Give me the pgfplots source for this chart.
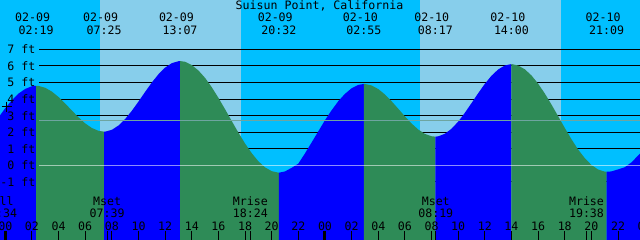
\documentclass[border=0pt]{standalone}
\usepackage{pgfplots}
\pgfplotsset{compat=1.18}
\usepackage{fontspec}
\setmainfont{DejaVu Sans Mono}
\definecolor{night}{RGB}{0,191,255}
\definecolor{day}{RGB}{135,206,235}
\definecolor{rise}{RGB}{0,0,255}
\definecolor{fall}{RGB}{46,139,87}
\definecolor{msl}{RGB}{110,165,160}
\begin{document}
\fontsize{11.6}{13}\selectfont
\begin{tikzpicture}[x=1pt,y=1pt,font=\fontsize{11.6}{13}\selectfont]
\path[use as bounding box] (0,0) rectangle (640,240);
\clip (0,0) rectangle (640,240);
\begin{axis}[at={(0,0)}, anchor=south west, scale only axis,
  width=640pt, height=240pt,
  xmin=-0.3979, xmax=47.650, ymin=-4.508, ymax=9.975,
  hide axis, clip=false]
% day / night background
\addplot[draw=none, fill=night] coordinates {(-1,-5) (-1,11) (7.11,11) (7.11,-5)};
\addplot[draw=none, fill=day] coordinates {(7.11,-5) (7.11,11) (17.695,11) (17.695,-5)};
\addplot[draw=none, fill=night] coordinates {(17.695,-5) (17.695,11) (31.13,11) (31.13,-5)};
\addplot[draw=none, fill=day] coordinates {(31.13,-5) (31.13,11) (41.72,11) (41.72,-5)};
\addplot[draw=none, fill=night] coordinates {(41.72,-5) (41.72,11) (49,11) (49,-5)};
% grid lines
\pgfplotsinvokeforeach{7,6,5,4,3,2,1,-1}{
  \addplot[black, line width=1pt] coordinates {(2.553,#1) (49,#1)};
}
% water: rising (blue) and falling (green)
\addplot[draw=none, fill=rise] coordinates {(-0.6,-5) (-0.6,2.782) (-0.5,2.899) (0,3.450) (0.5,3.936) (1,4.332) (1.5,4.611) (2,4.770) (2.317,4.80) (2.317,-5)};
\addplot[draw=none, fill=fall] coordinates {(2.317,-5) (2.317,4.80) (2.5,4.791) (3,4.676) (3.5,4.445) (4,4.118) (4.5,3.725) (5,3.302) (5.5,2.890) (6,2.528) (6.5,2.249) (7,2.079) (7.417,2.03) (7.417,-5)};
\addplot[draw=none, fill=rise] coordinates {(7.417,-5) (7.417,2.03) (7.5,2.032) (8,2.140) (8.5,2.402) (9,2.795) (9.5,3.288) (10,3.848) (10.5,4.433) (11,4.995) (11.5,5.495) (12,5.897) (12.5,6.165) (13,6.279) (13.117,6.29) (13.117,-5)};
\addplot[draw=none, fill=fall] coordinates {(13.117,-5) (13.117,6.29) (13.5,6.246) (14,6.048) (14.5,5.721) (15,5.272) (15.5,4.709) (16,4.071) (16.5,3.382) (17,2.671) (17.5,1.971) (18,1.314) (18.5,0.731) (19,0.240) (19.5,-0.126) (20,-0.354) (20.533,-0.45) (20.533,-5)};
\addplot[draw=none, fill=rise] coordinates {(20.533,-5) (20.533,-0.45) (21,-0.371) (21.5,-0.151) (22,0.10) (22.5,0.72) (23,1.38) (23.5,2.05) (24,2.72) (24.5,3.32) (25,3.87) (25.5,4.31) (26,4.65) (26.5,4.85) (26.917,4.91) (26.917,-5)};
\addplot[draw=none, fill=fall] coordinates {(26.917,-5) (26.917,4.91) (27,4.908) (27.5,4.816) (28,4.601) (28.5,4.274) (29,3.866) (29.5,3.413) (30,2.952) (30.5,2.523) (31,2.160) (31.5,1.895) (32,1.753) (32.283,1.73) (32.283,-5)};
\addplot[draw=none, fill=rise] coordinates {(32.283,-5) (32.283,1.73) (32.5,1.746) (33,1.904) (33.5,2.206) (34,2.634) (34.5,3.166) (35,3.751) (35.5,4.347) (36,4.915) (36.5,5.404) (37,5.782) (37.5,6.023) (38,6.11) (38,-5)};
\addplot[draw=none, fill=fall] coordinates {(38,-5) (38,6.11) (38.5,6.022) (39,5.795) (39.5,5.424) (40,4.928) (40.5,4.335) (41,3.670) (41.5,2.967) (42,2.258) (42.5,1.579) (43,0.955) (43.5,0.435) (44,0.022) (44.5,-0.253) (45,-0.383) (45.15,-0.39) (45.15,-5)};
\addplot[draw=none, fill=rise] coordinates {(45.15,-5) (45.15,-0.39) (45.5,-0.37) (46,-0.25) (46.5,-0.12) (47,0.17) (47.5,0.58) (48,0.98) (48,-5)};
% datum and mean lines
\addplot[white, opacity=0.55, line width=1pt] coordinates {(2.553,0) (49,0)};
\addplot[msl, line width=1pt] coordinates {(2.553,2.71) (49,2.71)};
% ticks
\pgfplotsinvokeforeach{2,4,6,8,10,12,14,16,18,20,22,26,28,30,32,34,36,38,40,42,44,46,-0.433,7.65,18.4,32.317,43.633}{
  \addplot[black, line width=1pt] coordinates {(#1,-3.995) (#1,-4.6)};
}
\pgfplotsinvokeforeach{0,24,48}{
  \addplot[black, line width=3pt] coordinates {(#1,-3.995) (#1,-4.6)};
}
% marker
\addplot[black, mark=+, mark size=5pt, line width=1pt, only marks] coordinates {(0.105,3.54)};
% title
\node[anchor=base, inner sep=0] at (axis cs:23.59,9.372) {Suisun Point, California};
% y labels
\node[anchor=base east, inner sep=0] at (axis cs:2.267,6.728) {7 ft};
\node[anchor=base east, inner sep=0] at (axis cs:2.267,5.728) {6 ft};
\node[anchor=base east, inner sep=0] at (axis cs:2.267,4.728) {5 ft};
\node[anchor=base east, inner sep=0] at (axis cs:2.267,3.728) {4 ft};
\node[anchor=base east, inner sep=0] at (axis cs:2.267,2.728) {3 ft};
\node[anchor=base east, inner sep=0] at (axis cs:2.267,1.728) {2 ft};
\node[anchor=base east, inner sep=0] at (axis cs:2.267,0.728) {1 ft};
\node[anchor=base east, inner sep=0] at (axis cs:2.267,-0.272) {0 ft};
\node[anchor=base east, inner sep=0] at (axis cs:2.267,-1.272) {-1 ft};
% tide event labels
\node[anchor=base, inner sep=0] at (axis cs:2.05,8.666) {02-09};
\node[anchor=base, inner sep=0] at (axis cs:2.317,7.905) {02:19};
\node[anchor=base, inner sep=0] at (axis cs:7.15,8.666) {02-09};
\node[anchor=base, inner sep=0] at (axis cs:7.417,7.905) {07:25};
\node[anchor=base, inner sep=0] at (axis cs:12.85,8.666) {02-09};
\node[anchor=base, inner sep=0] at (axis cs:13.117,7.905) {13:07};
\node[anchor=base, inner sep=0] at (axis cs:20.266,8.666) {02-09};
\node[anchor=base, inner sep=0] at (axis cs:20.533,7.905) {20:32};
\node[anchor=base, inner sep=0] at (axis cs:26.65,8.666) {02-10};
\node[anchor=base, inner sep=0] at (axis cs:26.917,7.905) {02:55};
\node[anchor=base, inner sep=0] at (axis cs:32.016,8.666) {02-10};
\node[anchor=base, inner sep=0] at (axis cs:32.283,7.905) {08:17};
\node[anchor=base, inner sep=0] at (axis cs:37.733,8.666) {02-10};
\node[anchor=base, inner sep=0] at (axis cs:38,7.905) {14:00};
\node[anchor=base, inner sep=0] at (axis cs:44.883,8.666) {02-10};
\node[anchor=base, inner sep=0] at (axis cs:45.15,7.905) {21:09};
% moon labels
\node[anchor=base, inner sep=0] at (axis cs:-0.433,-2.456) {Full};
\node[anchor=base, inner sep=0] at (axis cs:-0.433,-3.162) {23:34};
\node[anchor=base, inner sep=0] at (axis cs:7.65,-2.456) {Mset};
\node[anchor=base, inner sep=0] at (axis cs:7.65,-3.162) {07:39};
\node[anchor=base, inner sep=0] at (axis cs:18.4,-2.456) {Mrise};
\node[anchor=base, inner sep=0] at (axis cs:18.4,-3.162) {18:24};
\node[anchor=base, inner sep=0] at (axis cs:32.317,-2.456) {Mset};
\node[anchor=base, inner sep=0] at (axis cs:32.317,-3.162) {08:19};
\node[anchor=base, inner sep=0] at (axis cs:43.633,-2.456) {Mrise};
\node[anchor=base, inner sep=0] at (axis cs:43.633,-3.162) {19:38};
% hour labels
\node[anchor=base, inner sep=0] at (axis cs:0,-3.905) {00};
\node[anchor=base, inner sep=0] at (axis cs:2,-3.905) {02};
\node[anchor=base, inner sep=0] at (axis cs:4,-3.905) {04};
\node[anchor=base, inner sep=0] at (axis cs:6,-3.905) {06};
\node[anchor=base, inner sep=0] at (axis cs:8,-3.905) {08};
\node[anchor=base, inner sep=0] at (axis cs:10,-3.905) {10};
\node[anchor=base, inner sep=0] at (axis cs:12,-3.905) {12};
\node[anchor=base, inner sep=0] at (axis cs:14,-3.905) {14};
\node[anchor=base, inner sep=0] at (axis cs:16,-3.905) {16};
\node[anchor=base, inner sep=0] at (axis cs:18,-3.905) {18};
\node[anchor=base, inner sep=0] at (axis cs:20,-3.905) {20};
\node[anchor=base, inner sep=0] at (axis cs:22,-3.905) {22};
\node[anchor=base, inner sep=0] at (axis cs:24,-3.905) {00};
\node[anchor=base, inner sep=0] at (axis cs:26,-3.905) {02};
\node[anchor=base, inner sep=0] at (axis cs:28,-3.905) {04};
\node[anchor=base, inner sep=0] at (axis cs:30,-3.905) {06};
\node[anchor=base, inner sep=0] at (axis cs:32,-3.905) {08};
\node[anchor=base, inner sep=0] at (axis cs:34,-3.905) {10};
\node[anchor=base, inner sep=0] at (axis cs:36,-3.905) {12};
\node[anchor=base, inner sep=0] at (axis cs:38,-3.905) {14};
\node[anchor=base, inner sep=0] at (axis cs:40,-3.905) {16};
\node[anchor=base, inner sep=0] at (axis cs:42,-3.905) {18};
\node[anchor=base, inner sep=0] at (axis cs:44,-3.905) {20};
\node[anchor=base, inner sep=0] at (axis cs:46,-3.905) {22};
\node[anchor=base, inner sep=0] at (axis cs:48,-3.905) {00};
\end{axis}
\end{tikzpicture}
\end{document}
